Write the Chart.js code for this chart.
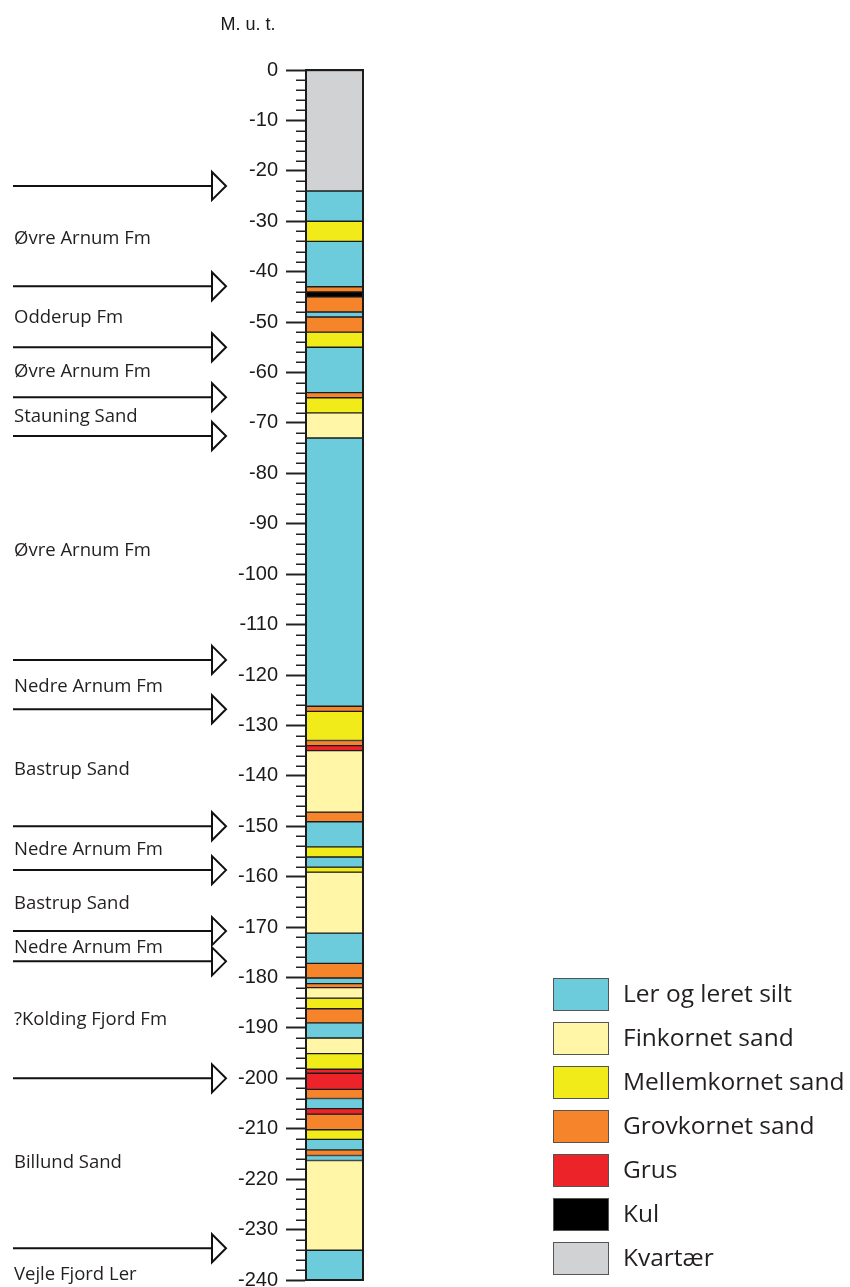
<!DOCTYPE html>
<html><head><meta charset="utf-8">
<script src="https://cdn.jsdelivr.net/npm/chart.js@4/dist/chart.umd.min.js"></script>
<style>html,body{margin:0;padding:0;background:#fff;} canvas{display:block;}</style>
</head><body>
<canvas id="c" width="850" height="1287"></canvas>
<script>
const categories = ['Boring'];
const lithologyNames = ['Ler og leret silt','Finkornet sand','Mellemkornet sand','Grovkornet sand','Grus','Kul','Kvartær'];
const lithologyColors = ['#6dccdb','#fff6a8','#f2eb1a','#f5842a','#ec2328','#000000','#d1d2d4'];
// layer boundaries (m below surface) and lithology index of each layer
const layerBoundaries = [0,24,30,34,43,44,45,48,49,52,55,64,65,68,73,126.2,127.2,133,134,135,147.2,149.1,154.1,156.1,158.1,159.1,171.2,177.2,180.1,181.2,182,184.1,186.2,189,192,195.1,198.2,199,202.2,204,206,207.1,210.2,212.1,214.2,215.3,216.3,234.1,240];
const layerTypes = [6,0,2,0,3,5,3,0,3,2,0,3,2,1,0,3,2,3,4,1,3,0,2,0,2,1,0,3,0,3,1,2,3,0,1,2,4,4,3,0,4,3,2,0,3,0,1,0];
// formation boundaries (arrows) and formation labels
const boundaryDepths = [23,42.9,55,64.9,72.6,117,126.8,150,158.7,170.8,176.8,200,233.7];
const formationNames = ['Øvre Arnum Fm','Odderup Fm','Øvre Arnum Fm','Stauning Sand','Øvre Arnum Fm','Nedre Arnum Fm','Bastrup Sand','Nedre Arnum Fm','Bastrup Sand','Nedre Arnum Fm','?Kolding Fjord Fm','Billund Sand','Vejle Fjord Ler'];
const formationLabelDepths = [33.5,49.2,59.9,68.8,95.4,122.4,138.7,154.6,165.3,174,188.3,216.7,238.9];
const axisTitle = 'M. u. t.';

const datasets = layerTypes.map((t, i) => ({
  label: lithologyNames[t],
  data: [[-layerBoundaries[i], -layerBoundaries[i + 1]]],
  backgroundColor: lithologyColors[t],
  borderColor: '#1c1c1c',
  borderWidth: 1,
  borderSkipped: false,
  grouped: false,
  barPercentage: 1,
  categoryPercentage: 1
}));

const decor = {
  id: 'decor',
  afterDatasetsDraw(chart) {
    const ctx = chart.ctx, a = chart.chartArea;
    ctx.save();
    ctx.strokeStyle = '#1c1c1c';
    ctx.lineWidth = 2;
    ctx.strokeRect(a.left, a.top, a.right - a.left, a.bottom - a.top);
    ctx.restore();
  },
  afterDraw(chart) {
    const ctx = chart.ctx, a = chart.chartArea, y = chart.scales.y;
    ctx.save();
    // minor ticks
    ctx.strokeStyle = '#222';
    ctx.lineWidth = 1.5;
    for (let v = 0; v >= -240; v -= 2) {
      if (v % 10 === 0) continue;
      const py = Math.round(y.getPixelForValue(v)) + 0.25;
      ctx.beginPath(); ctx.moveTo(a.left - 10, py); ctx.lineTo(a.left, py); ctx.stroke();
    }
    // axis title
    ctx.fillStyle = '#1a1a1a';
    ctx.font = '18px "Liberation Sans", Arial, sans-serif';
    ctx.textAlign = 'center'; ctx.textBaseline = 'alphabetic';
    ctx.fillText(axisTitle, 248, 30);
    // formation arrows
    ctx.lineWidth = 2;
    ctx.strokeStyle = '#111';
    boundaryDepths.forEach(d => {
      const py = y.getPixelForValue(-d);
      ctx.beginPath(); ctx.moveTo(13, py); ctx.lineTo(212, py); ctx.stroke();
      ctx.beginPath(); ctx.moveTo(212, py - 14); ctx.lineTo(226, py); ctx.lineTo(212, py + 14); ctx.closePath();
      ctx.fillStyle = '#fff'; ctx.fill(); ctx.stroke();
    });
    // formation labels
    ctx.fillStyle = '#231f20';
    ctx.font = '18.5px "Open Sans", sans-serif';
    ctx.textAlign = 'left'; ctx.textBaseline = 'middle';
    formationNames.forEach((n, i) => {
      ctx.fillText(n, 14, y.getPixelForValue(-formationLabelDepths[i]));
    });
    // legend
    ctx.font = '24.5px "Open Sans", sans-serif';
    lithologyNames.forEach((n, i) => {
      const by = 978 + i * 44;
      ctx.fillStyle = lithologyColors[i];
      ctx.fillRect(553, by, 56, 33);
      ctx.strokeStyle = '#555';
      ctx.lineWidth = 1;
      ctx.strokeRect(553.5, by + 0.5, 55, 32);
      ctx.fillStyle = '#231f20';
      ctx.fillText(n, 623, by + 17);
    });
    ctx.restore();
  }
};

new Chart(document.getElementById('c'), {
  type: 'bar',
  data: { labels: categories, datasets },
  options: {
    responsive: false,
    animation: false,
    devicePixelRatio: 1,
    layout: { padding: { top: 70, bottom: 7, left: 0, right: 487 } },
    plugins: { legend: { display: false }, tooltip: { enabled: false } },
    scales: {
      x: { display: false },
      y: {
        min: -240, max: 0,
        afterFit(s) { s.width = 306; s.paddingTop = 0; s.paddingBottom = 0; },
        ticks: { stepSize: 10, autoSkip: false, padding: 8, color: '#1a1a1a',
                 font: { family: '"Liberation Sans", Arial, sans-serif', size: 20 } },
        grid: { drawOnChartArea: false, drawTicks: true, tickLength: 20, tickWidth: 2, tickColor: '#222' },
        border: { display: true, color: '#1c1c1c', width: 2 }
      }
    }
  },
  plugins: [decor]
});
</script>
</body></html>
